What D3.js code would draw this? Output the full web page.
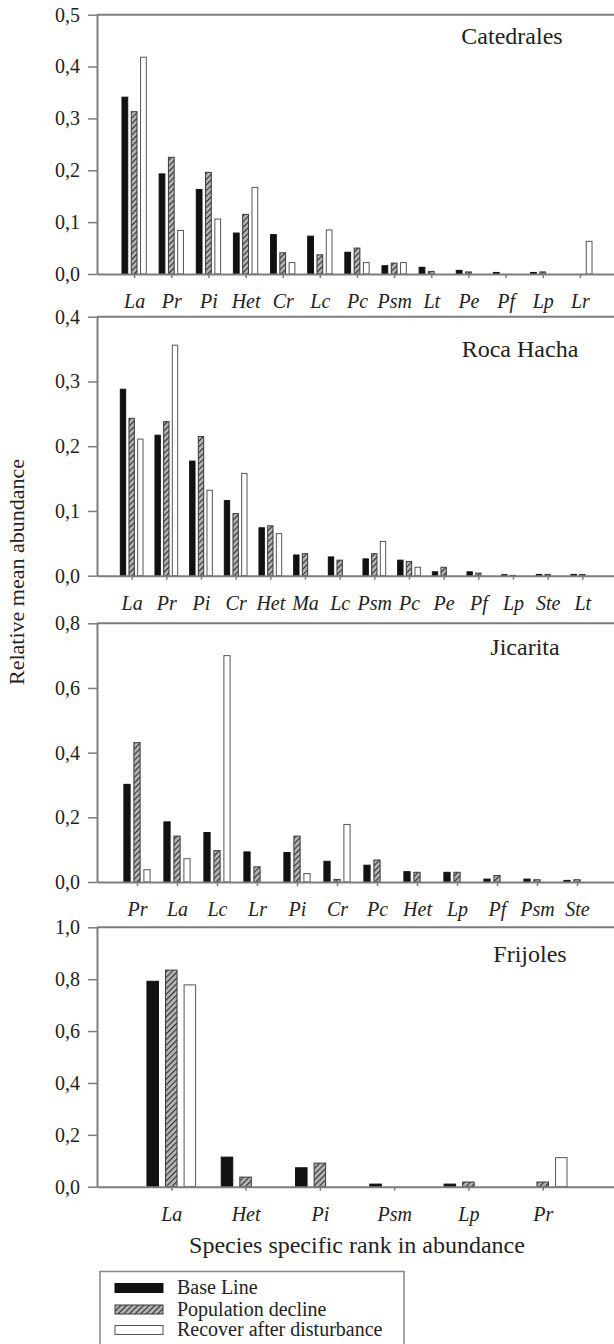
<!DOCTYPE html>
<html>
<head>
<meta charset="utf-8">
<script src="https://cdn.jsdelivr.net/npm/d3@7"></script>
<style>
  body { margin: 0; background: #fff; }
  svg { display: block; }
  svg text { font-family: "Liberation Serif", Tinos, "Times New Roman", "DejaVu Serif", serif; }
</style>
</head>
<body>
<svg id="chart" width="614" height="1344"></svg>
<script>
// series names (legend)
const seriesNames = ["Base Line", "Population decline", "Recover after disturbance"];

// Catedrales
const catedralesSpecies = ["La", "Pr", "Pi", "Het", "Cr", "Lc", "Pc", "Psm", "Lt", "Pe", "Pf", "Lp", "Lr"];
const catedralesBase    = [0.341, 0.193, 0.163, 0.079, 0.076, 0.073, 0.042, 0.016, 0.013, 0.007, 0.003, 0.003, 0];
const catedralesDecline = [0.313, 0.225, 0.196, 0.115, 0.041, 0.037, 0.050, 0.021, 0.005, 0.004, 0, 0.004, 0];
const catedralesRecover = [0.418, 0.084, 0.106, 0.167, 0.022, 0.085, 0.022, 0.022, 0, 0, 0, 0, 0.063];

// Roca Hacha
const rocaSpecies = ["La", "Pr", "Pi", "Cr", "Het", "Ma", "Lc", "Psm", "Pc", "Pe", "Pf", "Lp", "Ste", "Lt"];
const rocaBase    = [0.288, 0.217, 0.177, 0.116, 0.074, 0.032, 0.029, 0.026, 0.024, 0.006, 0.006, 0.0015, 0.002, 0.002];
const rocaDecline = [0.243, 0.238, 0.215, 0.096, 0.077, 0.034, 0.024, 0.034, 0.022, 0.013, 0.004, 0.0005, 0.002, 0.002];
const rocaRecover = [0.211, 0.356, 0.132, 0.158, 0.065, 0, 0, 0.053, 0.013, 0, 0, 0, 0, 0];

// Jicarita
const jicaritaSpecies = ["Pr", "La", "Lc", "Lr", "Pi", "Cr", "Pc", "Het", "Lp", "Pf", "Psm", "Ste"];
const jicaritaBase    = [0.302, 0.186, 0.153, 0.093, 0.091, 0.064, 0.052, 0.032, 0.030, 0.009, 0.009, 0.005];
const jicaritaDecline = [0.431, 0.142, 0.097, 0.047, 0.142, 0.008, 0.068, 0.030, 0.030, 0.020, 0.007, 0.007];
const jicaritaRecover = [0.038, 0.072, 0.700, 0, 0.026, 0.178, 0, 0, 0, 0, 0, 0];

// Frijoles
const frijolesSpecies = ["La", "Het", "Pi", "Psm", "Lp", "Pr"];
const frijolesBase    = [0.792, 0.114, 0.073, 0.010, 0.010, 0];
const frijolesDecline = [0.835, 0.037, 0.091, 0, 0.018, 0.018];
const frijolesRecover = [0.778, 0, 0, 0, 0, 0.112];

const sites = ["Catedrales", "Roca Hacha", "Jicarita", "Frijoles"];

// panel layout
const panels = [
  { name: sites[0], species: catedralesSpecies, series: [catedralesBase, catedralesDecline, catedralesRecover],
    yMax: 0.5, yStep: 0.1, top: 14.7, bottom: 274, titleX: 512, titleDy: 29 },
  { name: sites[1], species: rocaSpecies, series: [rocaBase, rocaDecline, rocaRecover],
    yMax: 0.4, yStep: 0.1, top: 316.7, bottom: 575.7, titleX: 520, titleDy: 40 },
  { name: sites[2], species: jicaritaSpecies, series: [jicaritaBase, jicaritaDecline, jicaritaRecover],
    yMax: 0.8, yStep: 0.2, top: 623.3, bottom: 882, titleX: 525, titleDy: 32 },
  { name: sites[3], species: frijolesSpecies, series: [frijolesBase, frijolesDecline, frijolesRecover],
    yMax: 1.0, yStep: 0.2, top: 927.3, bottom: 1186.7, titleX: 530, titleDy: 35 }
];

const left = 97, right = 617;
const frameColor = "#7d7d7d";
const textColor = "#222";
const serif = "'Liberation Serif', Tinos, 'Times New Roman', 'DejaVu Serif', serif";

const svg = d3.select("#chart");

// hatch pattern for "Population decline"
const defs = svg.append("defs");
const hatch = defs.append("pattern")
  .attr("id", "hatch")
  .attr("patternUnits", "userSpaceOnUse")
  .attr("width", 4).attr("height", 4)
  .attr("patternTransform", "rotate(45)");
hatch.append("rect").attr("width", 4).attr("height", 4).attr("fill", "#b4b4b4");
hatch.append("line").attr("x1", 0).attr("y1", 0).attr("x2", 0).attr("y2", 4)
  .attr("stroke", "#2e2e2e").attr("stroke-width", 2.2);

const fills = ["#111", "url(#hatch)", "#fff"];
const strokes = ["#111", "#3a3a3a", "#555"];

const fmt = v => d3.format(".1f")(v).replace(".", ",");

panels.forEach(p => {
  const n = p.species.length;
  const x = d3.scaleLinear().domain([0, n + 1]).range([left, right]);
  const y = d3.scaleLinear().domain([0, p.yMax]).range([p.bottom, p.top]);
  const step = x(1) - x(0);
  const bw = step * 0.155;
  const g = svg.append("g");

  // bars
  p.series.forEach((vals, j) => {
    g.selectAll(null)
      .data(vals.map((v, i) => ({ v, i })).filter(d => d.v > 0))
      .enter().append("rect")
      .attr("x", d => x(d.i + 1) + (j - 1) * step * 0.25 - bw / 2)
      .attr("y", d => y(d.v))
      .attr("width", bw)
      .attr("height", d => y(0) - y(d.v))
      .attr("fill", fills[j])
      .attr("stroke", strokes[j])
      .attr("stroke-width", 1);
  });

  // frame: top line
  g.append("line")
    .attr("x1", left).attr("x2", right)
    .attr("y1", y(p.yMax)).attr("y2", y(p.yMax))
    .attr("stroke", frameColor).attr("stroke-width", 2);

  // y axis
  const yAxis = g.append("g")
    .attr("transform", `translate(${left},0)`)
    .call(d3.axisLeft(y)
      .tickValues(d3.range(0, p.yMax + 1e-9, p.yStep))
      .tickFormat(fmt)
      .tickSize(9).tickSizeOuter(0).tickPadding(8));

  // x axis
  const xAxis = g.append("g")
    .attr("transform", `translate(0,${y(0)})`)
    .call(d3.axisBottom(x)
      .tickValues(d3.range(1, n + 1))
      .tickFormat(i => p.species[i - 1])
      .tickSize(4).tickSizeOuter(0).tickPadding(16));

  [yAxis, xAxis].forEach(a => {
    a.attr("font-family", serif).attr("font-size", 20);
    a.select(".domain").attr("stroke", frameColor).attr("stroke-width", 2);
    a.selectAll(".tick line").attr("stroke", frameColor).attr("stroke-width", 1.5);
    a.selectAll("text").attr("fill", textColor);
  });
  xAxis.selectAll("text").style("font-style", "italic");

  // site name
  g.append("text")
    .attr("x", p.titleX)
    .attr("y", p.top + p.titleDy)
    .attr("text-anchor", "middle")
    .attr("fill", textColor)
    .style("font-size", "24px")
    .text(p.name);
});

// axis titles
svg.append("text")
  .attr("x", (left + right) / 2)
  .attr("y", 1253)
  .attr("text-anchor", "middle")
  .attr("fill", textColor)
  .style("font-size", "24px")
  .text("Species specific rank in abundance");

svg.append("text")
  .attr("transform", "translate(24,572) rotate(-90)")
  .attr("text-anchor", "middle")
  .attr("fill", textColor)
  .style("font-size", "22px")
  .text("Relative mean abundance");

// legend
const legend = svg.append("g");
legend.append("rect")
  .attr("x", 100).attr("y", 1271.5)
  .attr("width", 304).attr("height", 90)
  .attr("fill", "none").attr("stroke", "#888").attr("stroke-width", 1.5);

const legendRows = [1288, 1309.5, 1330];
seriesNames.forEach((name, j) => {
  legend.append("rect")
    .attr("x", 115).attr("y", legendRows[j] - 4.5)
    .attr("width", 48).attr("height", 9)
    .attr("fill", fills[j]).attr("stroke", strokes[j]).attr("stroke-width", 1);
  legend.append("text")
    .attr("x", 177).attr("y", legendRows[j] + 6)
    .attr("fill", textColor)
    .style("font-size", "20px")
    .text(name);
});
</script>
</body>
</html>
